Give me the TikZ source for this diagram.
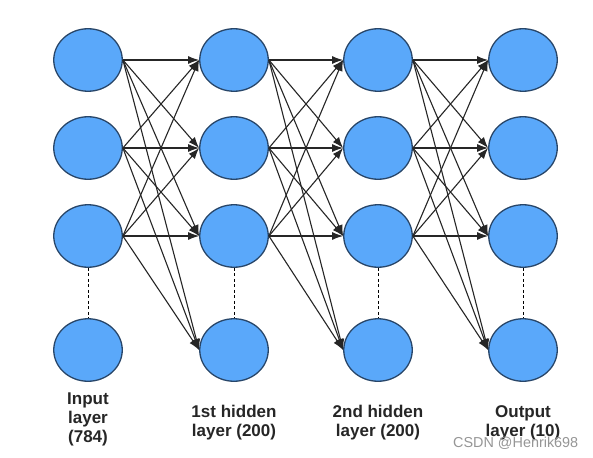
\documentclass[tikz,border=0pt]{standalone}
\usepackage{fontspec}
\setmainfont{Liberation Sans}
\usetikzlibrary{shapes.geometric,arrows.meta}
\definecolor{nodefill}{RGB}{90,168,250}
\definecolor{nodeline}{RGB}{40,70,105}
\definecolor{wm}{RGB}{150,150,150}
\tikzset{
  neuron/.style={ellipse, draw=nodeline, line width=1.3pt, fill=nodefill, minimum width=68.5pt, minimum height=62.5pt, inner sep=0pt},
  conn/.style={draw=black!85, line width=1.1pt, -{Latex[length=11pt,width=8pt]}, shorten >=0pt},
  dots/.style={draw=black, line width=0.9pt, dash pattern=on 3pt off 2.5pt},
  lbl/.style={font=\fontsize{17}{19}\selectfont\bfseries, align=center, inner sep=0pt, anchor=north, text=black!85},
}
\begin{document}
\begin{tikzpicture}[x=1pt,y=-1pt]
\useasboundingbox (0,0) rectangle (593,457);
\fill[white] (0,0) rectangle (593,457);
% neurons
\foreach \c/\x in {a/88,b/234,c/378,d/523}{
  \foreach \r/\y in {1/60,2/148,3/236,4/350}{
    \node[neuron] (\c\r) at (\x,\y) {};
  }
  \draw[dots] (\c3.south) -- (\c4.north);
}
% connections
\foreach \s/\t in {a/b,b/c,c/d}{
  \foreach \i in {1,2,3}{
    \foreach \j in {1,2,3,4}{
      \draw[conn] (\s\i.east) -- (\t\j.west);
    }
  }
}
% labels
\node[lbl] (la) at (88,393) {Input\\layer\\(784)};
\node[lbl] (lb) at (234,405) {1st hidden\\layer (200)};
\node[lbl] (lc) at (378,405) {2nd hidden\\layer (200)};
\node[lbl] (ld) at (523,405) {Output\\layer (10)};
\node[anchor=base west, inner sep=0pt, text=wm, font=\fontsize{14.4}{16}\selectfont] (wmk) at (453,447) {CSDN @Henrik698};
\end{tikzpicture}
\end{document}
